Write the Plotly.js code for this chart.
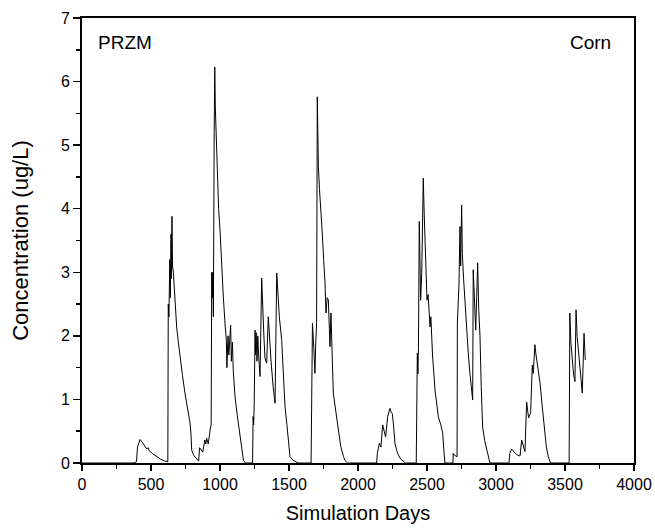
<!DOCTYPE html>
<html>
<head>
<meta charset="utf-8">
<script src="https://cdn.plot.ly/plotly-3.0.1.min.js"></script>
<style>html,body{margin:0;padding:0;background:#fff;}#chart{width:655px;height:529px;}</style>
</head>
<body>
<div id="chart"></div>
<script>
// Simulation day and concentration (ug/L)
const days = [
  0, 370, 395, 402, 410, 420, 432, 445, 458, 470, 478, 488, 510, 540, 570, 600, 622,
  625, 630, 636, 640, 645, 648, 652, 656, 662, 670, 686, 698, 710, 728, 746, 765, 783, 790, 795, 810, 830,
  845, 852, 865, 875, 890, 897, 903, 915, 930, 936,
  940, 944, 948, 952, 958, 962, 966, 972, 980, 990, 1000, 1012, 1024, 1036, 1046, 1050, 1058, 1064, 1070, 1077, 1082, 1090, 1096, 1109, 1125, 1145, 1160, 1170, 1185,
  1236, 1240, 1244, 1248, 1254, 1258, 1262, 1268, 1274, 1280, 1290, 1302, 1310, 1318, 1326, 1338, 1350, 1360, 1370, 1385, 1399, 1411, 1418, 1430, 1447, 1460, 1471, 1485, 1495, 1507, 1530, 1556, 1570,
  1660, 1664, 1667, 1670, 1680, 1688, 1694, 1700, 1705, 1709, 1713, 1721, 1729, 1741, 1751, 1761, 1768, 1777, 1785, 1792, 1797, 1804, 1812, 1821, 1840, 1857, 1875, 1895, 1906, 1925,
  2135, 2140, 2155, 2166, 2179, 2190, 2200, 2215, 2224, 2232, 2240, 2248, 2256, 2268, 2280, 2292, 2310, 2328, 2345,
  2422, 2425, 2430, 2434, 2438, 2444, 2450, 2454, 2462, 2468, 2473, 2480, 2485, 2492, 2500, 2508, 2515, 2522, 2528, 2540, 2558, 2570, 2582, 2600, 2614, 2622, 2630,
  2688, 2690, 2700, 2718, 2720, 2726, 2732, 2739, 2744, 2751, 2756, 2765, 2776, 2787, 2800, 2811, 2822, 2831, 2835, 2845, 2853, 2860, 2867, 2875, 2884, 2893, 2903, 2918, 2932, 2945, 2956,
  3094, 3096, 3100, 3113, 3125, 3140, 3160, 3174, 3186, 3198, 3210, 3222, 3236, 3251, 3263, 3270, 3276, 3282, 3290, 3305, 3319, 3337, 3355, 3365, 3379, 3395,
  3530, 3532, 3535, 3543, 3552, 3562, 3572, 3580, 3588, 3598, 3608, 3617, 3625, 3632, 3638, 3643, 3647
];
const conc = [
  0, 0, 0.02, 0.25, 0.3, 0.37, 0.34, 0.3, 0.25, 0.22, 0.24, 0.19, 0.15, 0.1, 0.06, 0.03, 0.02,
  2.5, 2.3, 3.2, 2.6, 3.6, 2.9, 3.88, 3.1, 3.0, 2.7, 2.14, 1.9, 1.67, 1.38, 1.1, 0.85, 0.63, 0.45, 0.2, 0.12, 0.06,
  0.03, 0.24, 0.2, 0.17, 0.36, 0.3, 0.39, 0.3, 0.55, 0.6,
  3.0, 2.6, 3.0, 2.3, 5.2, 6.23, 5.6, 5.2, 4.4, 4.0, 3.67, 3.0, 2.62, 2.2, 1.93, 1.5, 2.0, 1.7, 2.0, 2.17, 1.6, 1.9, 1.45, 1.04, 0.75, 0.41, 0.15, 0.04, 0,
  0, 0.73, 0.6, 0.94, 2.09, 1.7, 2.05, 1.6, 2.0, 1.7, 1.36, 2.91, 2.3, 2.0, 1.65, 1.57, 2.3, 1.9, 1.6, 1.2, 0.94, 2.99, 2.7, 2.3, 1.93, 1.4, 0.89, 0.6, 0.41, 0.1, 0.04, 0.01, 0,
  0, 0.78, 1.41, 2.2, 1.8, 1.41, 1.9, 2.2, 5.76, 5.2, 4.66, 4.3, 3.93, 3.62, 3.2, 2.83, 2.36, 2.6, 2.57, 2.1, 1.83, 2.36, 1.6, 1.1, 0.8, 0.57, 0.26, 0.1, 0.04, 0,
  0, 0.15, 0.31, 0.25, 0.6, 0.5, 0.41, 0.73, 0.8, 0.86, 0.8, 0.78, 0.63, 0.31, 0.2, 0.13, 0.06, 0.03, 0,
  0, 0.73, 1.73, 1.4, 1.8, 3.8, 2.9, 2.56, 3.0, 3.6, 4.48, 3.9, 3.51, 3.0, 2.56, 2.65, 2.4, 2.14, 2.3, 1.7, 1.15, 0.9, 0.73, 0.6, 0.47, 0.2, 0,
  0, 0.15, 0.12, 0.1, 2.2, 2.5, 2.83, 3.72, 3.1, 4.06, 3.3, 2.9, 2.5, 2.04, 1.7, 1.41, 1.2, 0.99, 3.04, 2.5, 2.09, 2.6, 3.15, 2.4, 2.0, 1.2, 0.57, 0.35, 0.2, 0.08, 0,
  0, 0.05, 0.15, 0.22, 0.18, 0.15, 0.12, 0.11, 0.36, 0.25, 0.18, 0.96, 0.71, 0.79, 1.54, 1.41, 1.7, 1.86, 1.7, 1.45, 1.26, 0.85, 0.47, 0.25, 0.1, 0,
  0, 0.89, 2.36, 1.89, 1.6, 1.4, 1.28, 2.41, 1.99, 1.7, 1.54, 1.3, 1.1, 1.7, 2.04, 1.8, 1.62
];
const xTickVals = [0, 500, 1000, 1500, 2000, 2500, 3000, 3500, 4000];
const yTickVals = [0, 1, 2, 3, 4, 5, 6, 7];
const labelModel = "PRZM";
const labelCrop = "Corn";
const xTitle = "Simulation Days";
const yTitle = "Concentration (ug/L)";

const FONT = "Liberation Sans, Arial, sans-serif";

const trace = {
  x: days, y: conc, type: "scatter", mode: "lines",
  line: {color: "#000", width: 1},
  hoverinfo: "skip"
};

const layout = {
  width: 655, height: 529,
  margin: {l: 82, r: 21, t: 18, b: 66, pad: 0},
  paper_bgcolor: "#fff", plot_bgcolor: "#fff",
  showlegend: false,
  font: {family: FONT, color: "#000", size: 16},
  xaxis: {
    range: [0, 4000], tickvals: xTickVals, ticktext: xTickVals.map(String),
    showgrid: false, zeroline: false,
    showline: true, linecolor: "#000", linewidth: 2, mirror: true,
    ticks: "outside", ticklen: 6, tickwidth: 1.5, tickcolor: "#000",
    minor: {dtick: 250, tick0: 0, ticks: "outside", ticklen: 4, tickwidth: 1.5, tickcolor: "#000", showgrid: false},
    tickfont: {family: FONT, size: 16, color: "#000"},
    title: {text: xTitle, font: {family: FONT, size: 20, color: "#000"}, standoff: 14}
  },
  yaxis: {
    range: [0, 7], tickvals: yTickVals, ticktext: yTickVals.map(String),
    showgrid: false, zeroline: false,
    showline: true, linecolor: "#000", linewidth: 2, mirror: true,
    ticks: "outside", ticklen: 7, tickwidth: 1.5, tickcolor: "#000",
    minor: {dtick: 0.5, tick0: 0, ticks: "outside", ticklen: 4, tickwidth: 1.5, tickcolor: "#000", showgrid: false},
    tickfont: {family: FONT, size: 16, color: "#000"},
    title: {text: yTitle, font: {family: FONT, size: 22, color: "#000"}, standoff: 26}
  },
  annotations: [
    {text: labelModel, xref: "paper", yref: "paper", x: 0.025, y: 0.945, xanchor: "left", yanchor: "middle",
     showarrow: false, font: {family: FONT, size: 19, color: "#000"}},
    {text: labelCrop, xref: "paper", yref: "paper", x: 0.962, y: 0.945, xanchor: "right", yanchor: "middle",
     showarrow: false, font: {family: FONT, size: 19, color: "#000"}}
  ]
};

Plotly.newPlot("chart", [trace], layout, {displayModeBar: false, staticPlot: true});
</script>
</body>
</html>
